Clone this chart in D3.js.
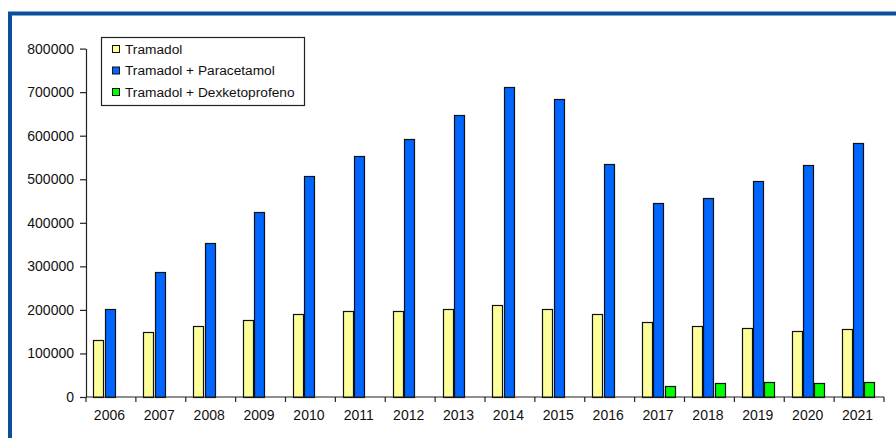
<!DOCTYPE html>
<html><head><meta charset="utf-8">
<script src="https://cdn.jsdelivr.net/npm/d3@7"></script>
<style>body{margin:0;background:#fff;}svg{display:block;}</style>
</head><body>
<svg id="c" width="896" height="438"></svg>
<script>
const years = ["2006","2007","2008","2009","2010","2011","2012","2013","2014","2015","2016","2017","2018","2019","2020","2021"];
const seriesNames = ["Tramadol","Tramadol + Paracetamol","Tramadol + Dexketoprofeno"];
const tramadol = [131000,149000,164000,176000,191000,197000,197000,203000,211000,202000,191000,173000,164000,158000,152000,155000];
const paracetamol = [203000,287000,354000,425000,508000,553000,592000,647000,712000,685000,536000,446000,458000,497000,533000,584000];
const dexketoprofeno = [0,0,0,0,0,0,0,0,0,0,0,25000,31000,34000,31000,34000];
const yTicks = [0,100000,200000,300000,400000,500000,600000,700000,800000];
const colors = ["#ffff99","#0066ff","#00ff00"];

const svg = d3.select("#c");
const font = "'Liberation Sans', Arial, sans-serif";
// frame
svg.append("rect").attr("x",10).attr("y",13.5).attr("width",900).attr("height",450)
  .attr("fill","none").attr("stroke","#0b4f9c").attr("stroke-width",4);

const x0 = 86, x1 = 884, yTop = 48.6, yBot = 397;
const x = d3.scaleBand().domain(years).range([x0,x1]).paddingInner(0).paddingOuter(0);
const sub = d3.scaleBand().domain([0,1,2]).range([7.4, x.bandwidth()-8.4]);
const y = d3.scaleLinear().domain([0,800000]).range([yBot,yTop]);

const data = [tramadol, paracetamol, dexketoprofeno];
data.forEach((vals,si)=>{
  svg.append("g").selectAll("rect").data(vals.map((v,i)=>({v,i})).filter(d=>d.v>0)).join("rect")
    .attr("x",d=>Math.round(x(years[d.i])+sub(si))+0.5)
    .attr("y",d=>Math.round(y(d.v))+0.5)
    .attr("width",Math.round(sub.bandwidth())-1)
    .attr("height",d=>Math.round(yBot)-Math.round(y(d.v)))
    .attr("fill",colors[si]).attr("stroke","#111").attr("stroke-width",1.2);
});

// y axis
const ya = svg.append("g").attr("transform",`translate(${x0},0)`)
  .call(d3.axisLeft(y).tickValues(yTicks).tickFormat(d3.format("d")).tickSize(6).tickSizeOuter(0).tickPadding(6));
ya.selectAll("text").attr("font-family",font).attr("font-size","14px").attr("fill","#111");
ya.selectAll("line,path").attr("stroke","#222").attr("stroke-width",1.2);

// x axis
const xa = svg.append("g").attr("transform",`translate(0,${yBot})`);
xa.append("line").attr("x1",x0).attr("x2",x1).attr("y1",0).attr("y2",0).attr("stroke","#222").attr("stroke-width",1.2);
const edges = years.map(d=>x(d)).concat([x1]);
xa.selectAll("line.t").data(edges).join("line").attr("class","t")
  .attr("x1",d=>d).attr("x2",d=>d).attr("y1",0).attr("y2",5).attr("stroke","#222").attr("stroke-width",1.2);
xa.selectAll("text").data(years).join("text")
  .attr("x",d=>x(d)+x.bandwidth()/2-1.5).attr("y",23)
  .attr("text-anchor","middle").attr("font-family",font).attr("font-size","14px").attr("fill","#111")
  .text(d=>d);

// legend
const lg = svg.append("g");
lg.append("rect").attr("x",101.5).attr("y",37.5).attr("width",203).attr("height",68)
  .attr("fill","#fff").attr("stroke","#222").attr("stroke-width",1.2);
seriesNames.forEach((n,i)=>{
  const cy = 49 + i*21.5;
  lg.append("rect").attr("x",112.5).attr("y",cy-3.5).attr("width",7).attr("height",7)
    .attr("fill",colors[i]).attr("stroke","#111").attr("stroke-width",1);
  lg.append("text").attr("x",125).attr("y",cy+4.8).attr("font-family",font).attr("font-size","13.7px").attr("fill","#111").text(n);
});
</script>
</body></html>
